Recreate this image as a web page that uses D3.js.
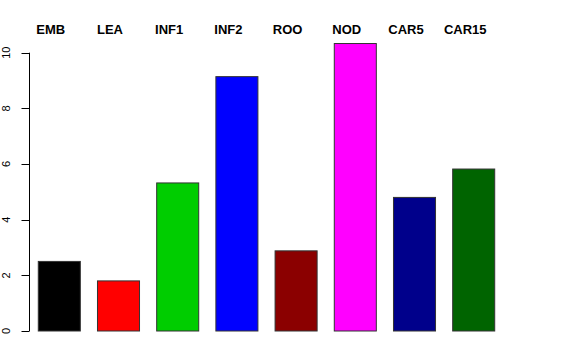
<!DOCTYPE html>
<html>
<head>
<meta charset="utf-8">
<script src="https://cdn.jsdelivr.net/npm/d3@7"></script>
<style>
  body { margin: 0; background: #fff; }
  text { font-family: "Liberation Sans", Arial, Helvetica, sans-serif; }
</style>
</head>
<body>
<div id="chart"></div>
<script>
var categories = ["EMB", "LEA", "INF1", "INF2", "ROO", "NOD", "CAR5", "CAR15"];
var values = [2.5, 1.8, 5.32, 9.14, 2.88, 10.33, 4.8, 5.82];
var colors = ["#000000", "#ff0000", "#00cd00", "#0000ff", "#8b0000", "#ff00ff", "#00008b", "#006400"];
var yTicks = [0, 2, 4, 6, 8, 10];

var width = 576,
    height = 360;

var svg = d3.select("#chart")
  .append("svg")
  .attr("width", width)
  .attr("height", height);

var x = d3.scaleBand()
  .domain(categories)
  .range([29.7, 503.3])
  .paddingInner(0.29)
  .paddingOuter(0.145);

var y = d3.scaleLinear()
  .domain([0, 10])
  .range([331, 52.7]);

// bars
svg.selectAll(".bar")
  .data(values)
  .enter()
  .append("rect")
    .attr("class", "bar")
    .attr("x", function(d, i) { return x(categories[i]); })
    .attr("y", function(d) { return y(d); })
    .attr("width", x.bandwidth())
    .attr("height", function(d) { return y(0) - y(d); })
    .attr("fill", function(d, i) { return colors[i]; })
    .attr("stroke", "#333")
    .attr("stroke-width", 1);

// category labels on top
svg.selectAll(".cat")
  .data(categories)
  .enter()
  .append("text")
    .attr("class", "cat")
    .attr("x", function(d) { return x(d) + x.bandwidth() / 2 - 8.5; })
    .attr("y", 34)
    .attr("text-anchor", "middle")
    .style("font-size", "13px")
    .style("font-weight", "bold")
    .text(function(d) { return d; });

// y axis
var axisX = 29.5;
var axis = svg.append("g").attr("class", "y-axis");

axis.append("line")
  .attr("x1", axisX).attr("x2", axisX)
  .attr("y1", y(0)).attr("y2", y(10))
  .attr("stroke", "#000");

axis.selectAll(".tick")
  .data(yTicks)
  .enter()
  .append("line")
    .attr("x1", axisX - 8).attr("x2", axisX)
    .attr("y1", function(d) { return Math.round(y(d)) + 0.5; })
    .attr("y2", function(d) { return Math.round(y(d)) + 0.5; })
    .attr("stroke", "#000");

axis.selectAll(".tick-label")
  .data(yTicks)
  .enter()
  .append("text")
    .attr("transform", function(d) { return "translate(10," + y(d) + ") rotate(-90)"; })
    .attr("text-anchor", "middle")
    .style("font-size", "11px")
    .text(function(d) { return d; });
</script>
</body>
</html>
